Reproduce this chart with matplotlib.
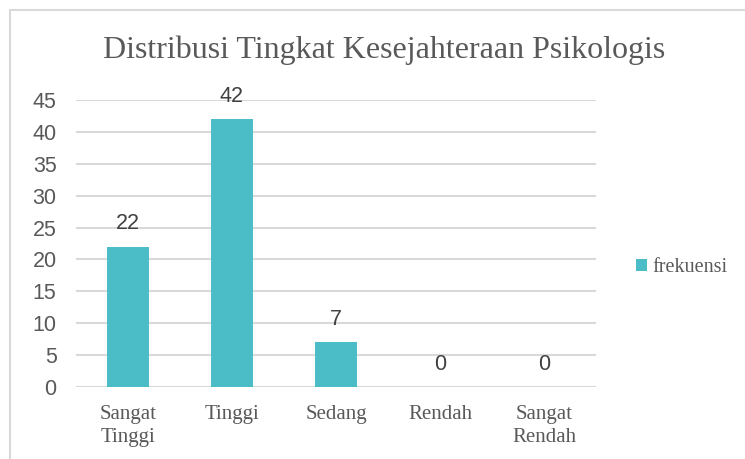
import matplotlib
matplotlib.use("Agg")
import matplotlib.pyplot as plt
from matplotlib.patches import Rectangle

categories = ["Sangat\nTinggi", "Tinggi", "Sedang", "Rendah", "Sangat\nRendah"]
values = [22, 42, 7, 0, 0]
yticks = [0, 5, 10, 15, 20, 25, 30, 35, 40, 45]
series_name = "frekuensi"
title = "Distribusi Tingkat Kesejahteraan Psikologis"

W, H = 745, 459
fig = plt.figure(figsize=(W/100, H/100), dpi=100)
txt = "#595959"
bar_color = "#4ABDC7"
grid_color = "#D9D9D9"

# outer border
fig.patches.append(Rectangle((10/W, -0.1), 1.2, 1 - 10/H + 0.1, transform=fig.transFigure,
                             fill=False, edgecolor="#D9D9D9", linewidth=1.5))

x0, x1 = 76, 596
y0, y1 = 387, 100
ax = fig.add_axes([x0/W, 1 - y0/H, (x1-x0)/W, (y0-y1)/H])
xs = list(range(len(categories)))
bars = ax.bar(xs, values, width=0.4, color=bar_color, label=series_name, zorder=3)
ax.set_xlim(-0.5, len(categories) - 0.5)
ax.set_ylim(0, 45)
ax.set_yticks(yticks)
ax.set_yticklabels([str(t) for t in yticks], fontfamily="Liberation Sans", fontsize=15.5, color=txt)
ax.set_xticks(xs)
ax.set_xticklabels(categories, fontfamily="Liberation Serif", fontsize=15, color=txt, linespacing=1.3)
ax.tick_params(axis="both", length=0)
ax.tick_params(axis="x", pad=13)
ax.tick_params(axis="y", pad=14)
for s in ax.spines.values():
    s.set_visible(False)
ax.grid(axis="y", color=grid_color, linewidth=1.5, zorder=0)
ax.set_axisbelow(True)

for xi, v in zip(xs, values):
    ax.annotate(str(v), (xi, v), xytext=(0, 9), textcoords="offset points",
                ha="center", va="bottom", fontfamily="Liberation Sans", fontsize=15.5, color="#404040")

fig.text(384/W, 1 - 50/H, title, ha="center", va="center", fontfamily="Liberation Serif",
         fontsize=23, color=txt)

leg = fig.legend(handles=[bars], labels=[series_name], loc="center left",
                 bbox_to_anchor=(618/W, 1 - 268/H), frameon=False,
                 prop={"family": "Liberation Serif", "size": 14.5}, handlelength=0.55,
                 handleheight=0.55, handletextpad=0.25)
for t in leg.get_texts():
    t.set_color(txt)

fig.savefig("out.png", dpi=100)
